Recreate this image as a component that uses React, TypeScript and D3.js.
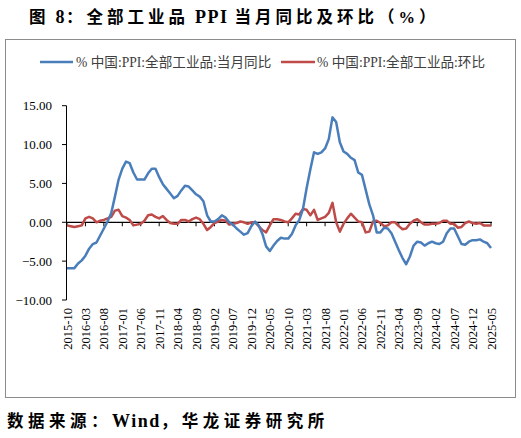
import React from "react";
import * as d3 from "d3";

const startYear = 2015;
const startMonth = 10;

const yoyValues: number[] = [
  -5.9, -5.9, -5.9, -5.3, -4.9, -4.3, -3.4, -2.8, -2.6, -1.7, -0.8, 0.1,
  1.2, 3.3, 5.5, 6.9, 7.8, 7.6, 6.4, 5.5, 5.5, 5.5, 6.3, 6.9,
  6.9, 5.8, 4.9, 4.3, 3.7, 3.1, 3.4, 4.1, 4.7, 4.6, 4.1, 3.6,
  3.3, 2.7, 0.9, 0.1, 0.1, 0.4, 0.9, 0.6, 0.0, -0.3, -0.8, -1.2,
  -1.6, -1.4, -0.5, 0.1, -0.4, -1.5, -3.1, -3.7, -3.0, -2.4, -2.0, -2.1,
  -2.1, -1.5, -0.4, 0.3, 1.7, 4.4, 6.8, 9.0, 8.8, 9.0, 9.5, 10.7,
  13.5, 12.9, 10.3, 9.1, 8.8, 8.3, 8.0, 6.4, 6.1, 4.2, 2.3, 0.9,
  -1.3, -1.3, -0.7, -0.8, -1.4, -2.5, -3.6, -4.6, -5.4, -4.4, -3.0, -2.5,
  -2.6, -3.0, -2.7, -2.5, -2.7, -2.8, -2.5, -1.4, -0.8, -0.8, -1.8, -2.8,
  -2.9, -2.5, -2.3, -2.3, -2.2, -2.5, -2.7, -3.3,
];

const momValues: number[] = [
  -0.4, -0.5, -0.6, -0.5, -0.4, 0.5, 0.7, 0.5, 0.0, 0.2, 0.3, 0.5,
  0.7, 1.5, 1.6, 0.8, 0.6, 0.3, -0.4, -0.3, -0.2, 0.2, 0.9, 1.0,
  0.7, 0.5, 0.8, 0.3, -0.1, -0.2, -0.2, 0.3, 0.3, 0.1, 0.4, 0.6,
  0.4, -0.2, -1.0, -0.6, -0.1, 0.1, 0.3, 0.2, -0.3, -0.2, -0.1, 0.1,
  0.0, -0.2, 0.0, 0.0, -0.5, -1.0, -1.3, -0.4, 0.4, 0.4, 0.3, 0.1,
  0.0, 0.5, 1.1, 1.0, 1.7, 1.6, 0.9, 1.6, 0.3, 0.5, 0.7, 1.2,
  2.5, 0.0, -1.2, -0.2, 0.5, 1.1, 0.6, 0.1, 0.0, -1.3, -1.2, 0.1,
  0.2, -0.1, -0.5, -0.4, 0.0, 0.0, -0.5, -0.9, -0.8, -0.2, 0.2, 0.4,
  0.0, -0.3, -0.3, -0.2, -0.2, -0.1, 0.2, 0.2, -0.2, -0.2, -0.7, -0.6,
  -0.1, 0.1, -0.1, -0.2, -0.1, -0.4, -0.4, -0.4,
];

const yTicks: number[] = [-10, -5, 0, 5, 10, 15];

const legendLabels: string[] = [
  "% 中国:PPI:全部工业品:当月同比",
  "% 中国:PPI:全部工业品:环比",
];

// title: "图 8：全部工业品 PPI 当月同比及环比（%）"
const titleParts: string[] = ["图", " 8", "：全部工业品", " PPI ", "当月同比及环比（%）"];
// source: "数据来源：Wind，华龙证券研究所"
const sourceParts: string[] = ["数据来源：", "Wind", "，华龙证券研究所"];

const months: string[] = yoyValues.map((_, i) => {
  const total = startMonth - 1 + i;
  const y = startYear + Math.floor(total / 12);
  const m = (total % 12) + 1;
  return `${y}-${m < 10 ? "0" + m : m}`;
});

const BLUE = "#4a7ebb";
const RED = "#be4b48";
const FONT = "'Liberation Serif', 'Times New Roman', 'Noto Sans CJK SC', serif";

const isCjk = (s: string) => /[\u3000-\u9fff\uff00-\uffef]/.test(s);

function MixedText({
  parts,
  x,
  y,
  cjkSpacing,
}: {
  parts: string[];
  x: number;
  y: number;
  cjkSpacing: number;
}) {
  return (
    <text x={x} y={y} fontWeight="bold" fill="#000" style={{ whiteSpace: "pre" }}>
      {parts.map((p, i) =>
        isCjk(p) ? (
          <tspan key={i} fontSize={16.5} letterSpacing={cjkSpacing}>
            {p}
          </tspan>
        ) : (
          <tspan key={i} fontSize={18} letterSpacing={1.5}>
            {p}
          </tspan>
        )
      )}
    </text>
  );
}

export default function App() {
  const x = d3
    .scaleLinear()
    .domain([0, months.length - 1])
    .range([67, 491]);
  const y = d3.scaleLinear().domain([-10, 15]).range([300, 105.7]);

  const line = d3
    .line<number>()
    .x((_, i) => x(i))
    .y((d) => y(d));

  const labelIdx = months.map((_, i) => i).filter((i) => i % 5 === 0);
  const fmt = d3.format(".2f");

  return (
    <svg
      width={521}
      height={438}
      style={{ position: "absolute", left: 0, top: 0, background: "#fff" }}
      fontFamily={FONT}
    >
      <rect x={0} y={0} width={521} height={438} fill="#fff" />
      <MixedText parts={titleParts} x={29} y={23} cjkSpacing={4} />
      <rect
        x={5.5}
        y={39.5}
        width={510}
        height={358}
        fill="none"
        stroke="#8c8c8c"
        strokeWidth={1}
      />
      {/* legend */}
      <line x1={40} x2={73} y1={62} y2={62} stroke={BLUE} strokeWidth={2.5} />
      <text x={76} y={66.5} fontSize={13.6} fill="#404040">
        {legendLabels[0]}
      </text>
      <line x1={281} x2={315} y1={62} y2={62} stroke={RED} strokeWidth={2.5} />
      <text x={317} y={66.5} fontSize={13.6} fill="#404040">
        {legendLabels[1]}
      </text>
      {/* y axis */}
      <line
        x1={66.5}
        x2={66.5}
        y1={y(15)}
        y2={y(-10)}
        stroke="#000"
        strokeWidth={1}
      />
      {yTicks.map((t) => (
        <g key={t}>
          <line
            x1={62}
            x2={66.5}
            y1={y(t)}
            y2={y(t)}
            stroke="#000"
            strokeWidth={1}
          />
          <text
            x={52}
            y={y(t) + 4.5}
            textAnchor="end"
            fontSize={13}
            fill="#000"
          >
            {fmt(t)}
          </text>
        </g>
      ))}
      {/* x axis at zero */}
      <line
        x1={66.5}
        x2={x(months.length - 1) + 1}
        y1={y(0)}
        y2={y(0)}
        stroke="#000"
        strokeWidth={1.2}
      />
      {labelIdx.map((i) => (
        <g key={i}>
          <line
            x1={x(i)}
            x2={x(i)}
            y1={y(0)}
            y2={y(0) + 4}
            stroke="#000"
            strokeWidth={1}
          />
          <text
            transform={`translate(${x(i) + 4.5},308) rotate(-90)`}
            textAnchor="end"
            fontSize={12.5}
            fill="#000"
          >
            {months[i]}
          </text>
        </g>
      ))}
      <path
        d={line(momValues) || ""}
        fill="none"
        stroke={RED}
        strokeWidth={2.5}
        strokeLinejoin="round"
      />
      <path
        d={line(yoyValues) || ""}
        fill="none"
        stroke={BLUE}
        strokeWidth={2.5}
        strokeLinejoin="round"
      />
      <MixedText parts={sourceParts} x={7} y={427} cjkSpacing={4.5} />
    </svg>
  );
}
